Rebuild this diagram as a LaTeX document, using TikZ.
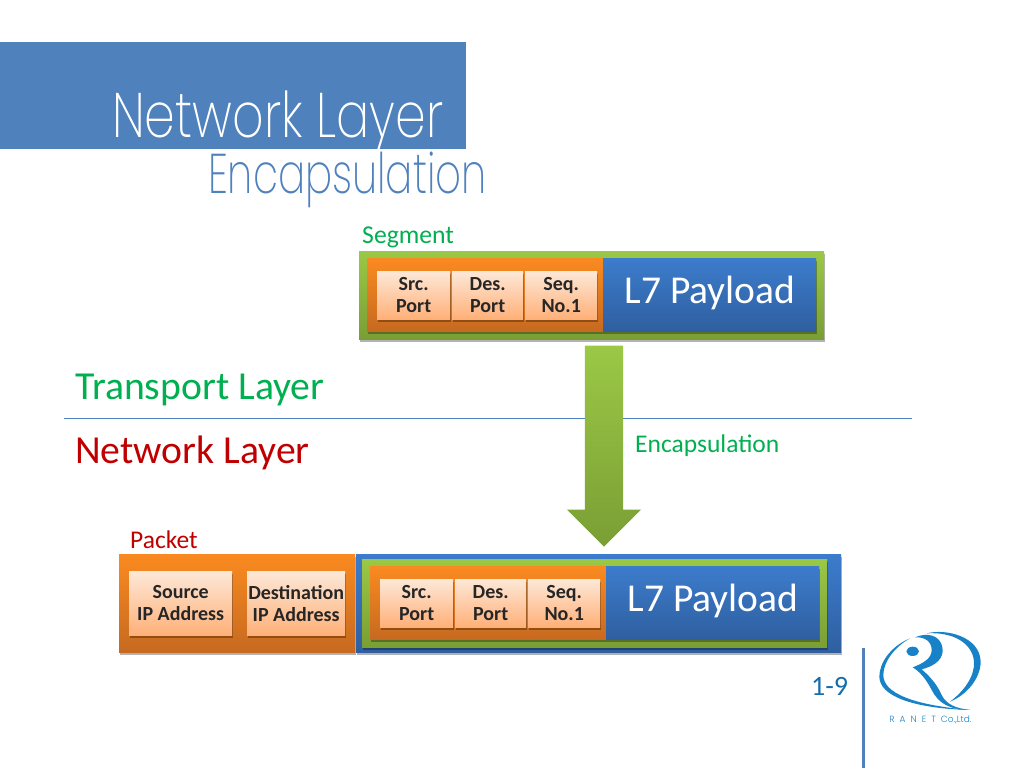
\documentclass[tikz,border=0pt]{standalone}
\usepackage{fontspec}
\setmainfont{Carlito}
\newfontfamily\titlefont[UprightFont=* ExtraLight]{Poppins}
\newfontfamily\logofont[UprightFont=* Light]{Poppins}
\usetikzlibrary{shadows,shapes.arrows}
\definecolor{MyBlue}{RGB}{79,129,189}
\definecolor{MyGreen}{RGB}{0,176,80}
\definecolor{MyRed}{RGB}{192,0,0}
\definecolor{LogoBlue}{RGB}{24,130,200}
\definecolor{MyLime}{RGB}{155,200,70}
\definecolor{MyLimeDark}{RGB}{122,158,52}
\definecolor{MyOrgTop}{RGB}{250,138,32}
\definecolor{MyOrgBot}{RGB}{198,106,32}
\definecolor{MyBluTop}{RGB}{60,124,204}
\definecolor{MyBluBot}{RGB}{47,95,160}
\definecolor{MyFldTop}{RGB}{253,232,216}
\definecolor{MyFldBot}{RGB}{255,176,120}

\begin{document}
\begin{tikzpicture}[x=1pt,y=-1pt,
                lay/.style={rectangle,inner sep=0pt,anchor=north west},
                shd/.style={drop shadow={shadow xshift=0.5pt,shadow yshift=-3pt,opacity=0.3,fill=black}},
                grn/.style={lay,shd,top color=MyLime,bottom color=MyLimeDark},
                org/.style={lay,shd,top color=MyOrgTop,bottom color=MyOrgBot},
                blu/.style={lay,shd,top color=MyBluTop,bottom color=MyBluBot},
                fld/.style={lay,shd,top color=MyFldTop,bottom color=MyFldBot,align=center,text=black!85,
                    font=\bfseries\fontsize{20}{22}\selectfont,execute at begin node=\rule{0pt}{14pt}},
                pay/.style={text=white,font=\fontsize{39.5}{40}\selectfont},
                tag/.style={anchor=base west,inner sep=0pt}
            ]
                \useasboundingbox (0,0) rectangle (1024,768);
                % Title banner
                \node[lay,fill=MyBlue,minimum width=466pt,minimum height=107pt] (banner) at (0,42) {};
                \node[tag,xscale=0.78,text=white,font=\titlefont\fontsize{63}{63}\selectfont] (title) at (112,137) {Network Layer};
                \node[tag,xscale=0.72,text=MyBlue,font=\titlefont\fontsize{56}{56}\selectfont] (subtitle) at (208,193) {Encapsulation};
                % Layer boundary
                \coordinate (rulel) at (64,418);
                \coordinate (ruler) at (912,418);
                \draw[MyBlue,thin] (rulel)--(ruler);
                \node[tag,text=MyGreen,font=\fontsize{39.7}{40}\selectfont] (tlayer) at (75,399) {Transport Layer};
                \node[tag,text=MyRed,font=\fontsize{39.7}{40}\selectfont] (nlayer) at (75,463) {Network Layer};
                % Packet header
                \node[org,minimum width=236pt,minimum height=98pt] (ipbox) at (119,554) {};
                \node[blu,minimum width=485pt,minimum height=98pt] (ipdata) at (356,554) {};
                \node[fld,minimum width=103pt,minimum height=64pt] (srcip) at (129,571) {Source\\IP Address};
                \node[fld,minimum width=98pt,minimum height=64pt] (dstip) at (247,571) {Destination\\IP Address};
                % Segment, once above and once inside the packet
                \foreach \n/\dx/\dy in {a/0/0,b/3/308} {
                    \begin{scope}[shift={(\dx,\dy)}]
                        \node[grn,minimum width=465pt,minimum height=88pt] (seg\n) at (359,251) {};
                        \node[org,minimum width=236pt,minimum height=73pt] (hdr\n) at (367,258) {};
                        \node[blu,minimum width=213pt,minimum height=73pt] (pl\n) at (603,258) {};
                        \node[pay] (txt\n) at (710,293) {L7 Payload};
                        \foreach \x/\w/\t/\m in {377/73/{Src.\\Port}/s,452/71/{Des.\\Port}/d,525/72/{Seq.\\No.1}/q} {
                            \node[fld,minimum width=\w pt,minimum height=48pt] (f\m\n) at (\x,271) {\t};
                        }
                    \end{scope}
                }
                \node[tag,text=MyGreen,font=\fontsize{25.7}{26}\selectfont] (seglbl) at (362,243) {Segment};
                \node[tag,text=MyRed,font=\fontsize{25.5}{26}\selectfont] (pktlbl) at (130,548) {Packet};
                % Encapsulation arrow
                \node[single arrow,shape border rotate=270,anchor=tip,inner sep=19pt,
                    single arrow head extend=18pt,minimum width=74pt,minimum height=201pt,
                    top color=MyLime,bottom color=MyLimeDark] (encarrow) at (604,547) {};
                \node[tag,text=MyGreen,font=\fontsize{25.5}{26}\selectfont] (enclbl) at (635,452) {Encapsulation};
                % Page number and bar
                \node[tag,text=LogoBlue!85!black,font=\fontsize{28}{28}\selectfont] (pageno) at (811,695) {1-9};
                \coordinate (bart) at (863.5,648);
                \coordinate (barb) at (863.5,768);
                \draw[MyBlue,line width=3pt] (bart)--(barb);
                % Logo
                \begin{scope}[shift={(800,620)},x=0.3333pt,y=-0.3333pt]
                    \fill[LogoBlue] (338,94) ellipse (19 and 14);
                    \fill[LogoBlue] (330,55) .. controls (270,80) and (238,130) .. (238,170)
                        .. controls (238,225) and (330,265) .. (510,270)
                        .. controls (340,255) and (250,220) .. (250,165)
                        .. controls (250,125) and (285,80) .. (330,55) -- cycle;
                    \fill[LogoBlue] (380,40) .. controls (440,25) and (540,50) .. (542,125)
                        .. controls (542,175) and (500,225) .. (450,245)
                        .. controls (490,215) and (525,170) .. (522,125)
                        .. controls (518,70) and (460,35) .. (380,40) -- cycle;
                    \fill[LogoBlue] (345,52) .. controls (400,30) and (430,60) .. (428,95)
                        .. controls (425,125) and (395,140) .. (365,148)
                        .. controls (385,165) and (410,190) .. (425,225)
                        .. controls (440,255) and (470,265) .. (510,270)
                        .. controls (450,270) and (415,250) .. (395,210)
                        .. controls (380,180) and (360,155) .. (338,142)
                        .. controls (370,130) and (395,115) .. (395,90)
                        .. controls (395,65) and (375,50) .. (345,52) -- cycle;
                \end{scope}
                \node[inner sep=0pt,text=LogoBlue,font=\logofont\fontsize{9}{9}\selectfont] (logotxt) at (930.5,720) {R\hspace{5pt}A\hspace{5pt}N\hspace{5pt}E\hspace{5pt}T\hspace{5pt}Co.,Ltd.};
            \end{tikzpicture}
\end{document}
